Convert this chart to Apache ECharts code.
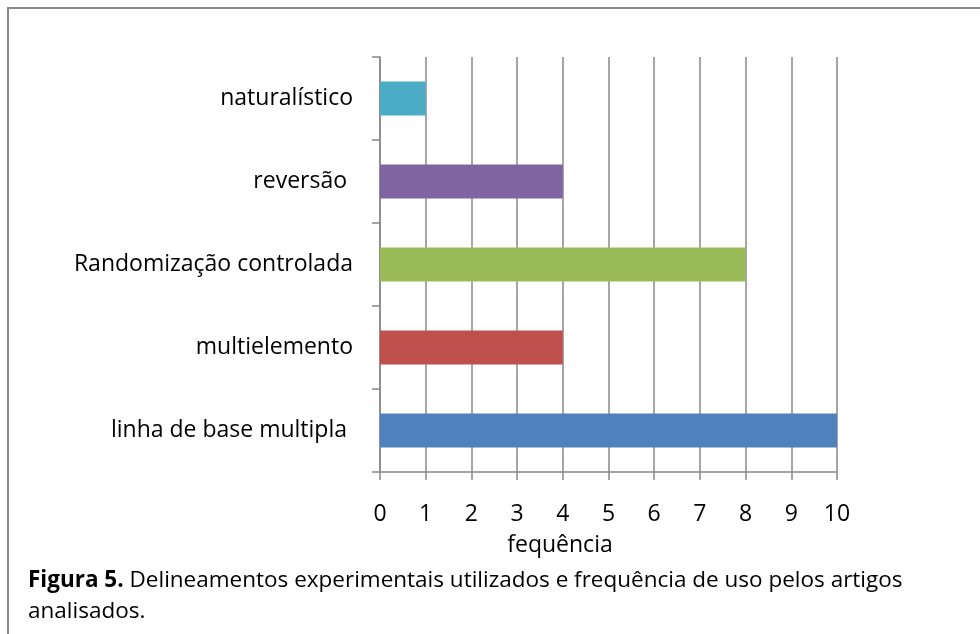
<!DOCTYPE html>
<html>
<head>
<meta charset="utf-8">
<script src="https://cdn.jsdelivr.net/npm/echarts@6/dist/echarts.min.js"></script>
<style>
  html, body { margin: 0; padding: 0; background: #fff; }
  #chart { width: 980px; height: 634px; }
</style>
</head>
<body>
<div id="chart"></div>
<script>
  // categorias (de baixo para cima, como no eixo)
  var categorias = ['linha de base multipla ', 'multielemento', 'Randomização controlada', 'reversão ', 'naturalístico'];
  var frequencias = [10, 4, 8, 4, 1];
  var cores = ['#4F81BD', '#C0504D', '#9BBB59', '#8064A2', '#4BACC6'];
  var ticksX = [0, 1, 2, 3, 4, 5, 6, 7, 8, 9, 10];

  var fonte = 'Open Sans';
  var chart = echarts.init(document.getElementById('chart'));

  var dados = frequencias.map(function (v, i) {
    return { value: v, itemStyle: { color: cores[i] } };
  });

  chart.setOption({
    animation: false,
    grid: { left: 380, right: 143, top: 57, bottom: 162 },
    xAxis: {
      type: 'value',
      min: ticksX[0],
      max: ticksX[ticksX.length - 1],
      interval: 1,
      axisLine: { show: true, lineStyle: { color: '#888', width: 1.5 } },
      axisTick: { show: true, length: 8, lineStyle: { color: '#888', width: 1.5 } },
      splitLine: { show: true, lineStyle: { color: '#888', width: 1.5 } },
      axisLabel: { margin: 31, color: '#000', fontFamily: fonte, fontSize: 23 }
    },
    yAxis: {
      type: 'category',
      data: categorias,
      axisLine: { show: true, lineStyle: { color: '#888', width: 1.5 } },
      axisTick: { show: true, length: 8, lineStyle: { color: '#888', width: 1.5 } },
      axisLabel: { margin: 27, color: '#000', fontFamily: fonte, fontSize: 23 }
    },
    series: [{
      type: 'bar',
      data: dados,
      barWidth: 34
    }],
    graphic: [
      {
        type: 'rect',
        shape: { x: 8, y: 8, width: 1200, height: 1000 },
        style: { fill: 'none', stroke: '#888', lineWidth: 2 }
      },
      {
        type: 'text',
        x: 560, y: 545,
        style: {
          text: 'fequência', fill: '#000', font: '23px "Open Sans"',
          align: 'center', verticalAlign: 'middle'
        }
      },
      {
        type: 'text',
        x: 28, y: 581,
        style: {
          text: '{b|Figura 5.} Delineamentos experimentais utilizados e frequência de uso pelos artigos',
          fill: '#000', font: '22.5px "Open Sans"',
          verticalAlign: 'middle',
          rich: { b: { fontWeight: 'bold', fontFamily: fonte, fontSize: 22.5 } }
        }
      },
      {
        type: 'text',
        x: 28, y: 612,
        style: {
          text: 'analisados.', fill: '#000', font: '22.5px "Open Sans"',
          verticalAlign: 'middle'
        }
      }
    ]
  });
</script>
</body>
</html>
